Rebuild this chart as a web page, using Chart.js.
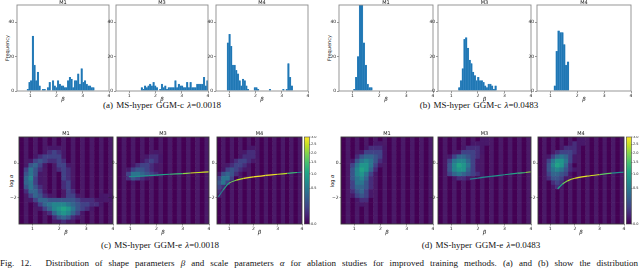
<!DOCTYPE html>
<html>
<head>
<meta charset="utf-8">
<script src="https://cdn.jsdelivr.net/npm/chart.js@4.4.1/dist/chart.umd.min.js"></script>
<style>
  body { margin: 0; width: 640px; height: 268px; overflow: hidden; background: #fff; position: relative; }
  canvas { position: absolute; }
  .lbl { position: absolute; transform: translate(-50%, -50%); white-space: nowrap; font-family: 'DejaVu Sans', sans-serif; color: #111; line-height: 1; }
  .ttl { font-size: 5px; }
  .ax { font-size: 5.5px; font-style: italic; }
  .rot { transform: translate(-50%, -50%) rotate(-90deg); }
  .cap { position: absolute; transform: translateX(-50%); white-space: nowrap; font: 9px/9px 'Liberation Serif', serif; word-spacing: 1px; color: #111; }
  .fig { position: absolute; left: 0; top: 259px; width: 638px; font: 9px/9px 'Liberation Serif', serif; text-align: justify; text-align-last: justify; color: #111; }
</style>
</head>
<body>
<div class="cap" style="left:162px;top:100.5px">(a) MS-hyper GGM-c <i>λ</i>=0.0018</div>
<div class="cap" style="left:479px;top:100.5px">(b) MS-hyper GGM-c <i>λ</i>=0.0483</div>
<div class="cap" style="left:160px;top:240.5px">(c) MS-hyper GGM-e <i>λ</i>=0.0018</div>
<div class="cap" style="left:481px;top:240.5px">(d) MS-hyper GGM-e <i>λ</i>=0.0483</div>
<div class="fig"><span style="margin-right:14px">Fig. 12.</span>Distribution of shape parameters <i>β</i> and scale parameters <i>α</i> for ablation studies for improved training methods. (a) and (b) show the distribution</div>

<div class="lbl rot" style="left:6.5px;top:48px;font-size:5px">Frequency</div>
<div class="lbl rot" style="left:328.5px;top:48px;font-size:5px">Frequency</div>
<div class="lbl rot" style="left:11px;top:181px;font-size:5px">log <i>α</i></div>
<div class="lbl rot" style="left:331.5px;top:181px;font-size:5px">log <i>α</i></div>

<script>
// ---------------- data ----------------
const betaTicks = [1, 2, 3, 4];
const freqTicks = [0, 20, 40];
const logaTicks = [-2, 0];
const cbTicks = [0, 0.5, 1, 1.5, 2, 2.5, 3];
const CB_MAX = 3;

// histograms: [first bin edge, bin width] and counts per bin
const binA1 = [0.88, 0.064];
const cntA1 = [1, 5, 6, 32, 15, 6, 11, 3, 0, 1, 1, 0, 2, 5, 0, 6, 3, 2, 6, 4, 3, 3, 2, 2, 6, 8, 7, 2, 6, 6, 10, 4, 13, 5, 6, 4, 3, 3, 2, 2];
const binA3 = [1.45, 0.064];
const cntA3 = [2, 1, 3, 2, 3, 4, 3, 5, 3, 2, 0, 1, 4, 2, 3, 1, 2, 2, 2, 2, 6, 2, 4, 3, 3, 2, 2, 5, 2, 5, 2, 2, 2, 4, 4, 4, 4, 8, 3, 6];
const binA4 = [0.92, 0.064];
const cntA4 = [28, 33, 26, 15, 15, 12, 10, 6, 3, 7, 6, 3, 1, 0, 0, 0, 2, 2, 1, 0, 0, 0, 0, 0, 0, 1, 0, 0, 0, 0, 0, 0, 0, 1, 0, 1, 16, 8, 3, 0];
const binB1 = [1.04, 0.07];
const cntB1 = [1, 8, 20, 55, 60, 28, 15, 4, 2, 2];
const binB3 = [1.27, 0.065];
const cntB3 = [2, 6, 13, 30, 31, 25, 18, 16, 11, 9, 6, 8, 6, 6, 5, 3, 2, 4, 4, 3, 1, 3];
const binB4 = [1.13, 0.07];
const cntB4 = [3, 23, 35, 34, 34, 27, 15, 17];

// density maps: rows from log a = 1.5 downwards (step 0.25), columns from beta = 0.5 (step 0.175), level 0-9
const BETA_MIN = 0.5, BETA_STEP = 0.175, LOGA_TOP = 1.5, LOGA_STEP = 0.25;
const heatC1 = [
  "00000000000000000000", "00000000000000000000", "00000011100000000000", "00000123210000000000",
  "00012333310000000000", "00134322320000000000", "01453100331000000000", "03642000232000000000",
  "04641000032000000000", "05731000032000000000", "05631000023100000000", "04642000023100000000",
  "02553100003200000000", "00354210003310000111", "00135544444432221111", "00013567776543322100",
  "00001357898643210000", "00000025787531000000", "00000002454210000000", "00000000121000000000"
];
const heatC3 = [
  "00000000000000000000", "00000000000000000000", "00000000000000000000", "00000000100000000000",
  "00000012210000000000", "00000123210000000000", "00012332100000000000", "00134432100000000000",
  "00366543210000000000", "00243210000000000000", "00010000000000000000", "00000000000000000000",
  "00000000000000000000", "00000000000000000000", "00000000000000000000", "00000000000000000000",
  "00000000000000000000", "00000000000000000000", "00000000000000000000", "00000000000000000000"
];
const heatC4 = [
  "00000000000000000000", "00000000000000000000", "00000001100000000000", "00000012210000000000",
  "00000122210000000000", "00012332100000000000", "00123321000000000000", "01343210000000000000",
  "14542100000000000000", "36630000000000000000", "46300000000000000000", "32000000000000000000",
  "20000000000000000000", "10000000000000000000", "00000000000000000000", "00000000000000000000",
  "00000000000000000000", "00000000000000000000", "00000000000000000000", "00000000000000000000"
];
const heatD1 = [
  "00000000000000000000", "00000001100000000000", "00000122210000000000", "00001333310000000000",
  "00024554310000000000", "00146764210000000000", "00368863100000000000", "00479852000000000000",
  "00478631000000000000", "00467520000000000000", "00366420000000000000", "00355420000000000000",
  "00245310000000000000", "00134310000000000000", "00012200000000000000", "00001000000000000000",
  "00000000000000000000", "00000000000000000000", "00000000000000000000", "00000000000000000000"
];
const heatD3 = [
  "00000000011000000000", "00000001111000000000", "00000122210000000000", "00001333210000000000",
  "00135543200000000000", "00367753100000000000", "00479863100000000000", "00478853100000000000",
  "00356543210000000000", "00012210000000000000", "00000000000000000000", "00000000000000000000",
  "00000000000000000000", "00000000000000000000", "00000000000000000000", "00000000000000000000",
  "00000000000000000000", "00000000000000000000", "00000000000000000000", "00000000000000000000"
];
const heatD4 = [
  "00000000011000000000", "00000001211000000000", "00000122210000000000", "00002333210000000000",
  "00135653100000000000", "00368863100000000000", "00479852000000000000", "00467642100000000000",
  "00355431000000000000", "00244310000000000000", "00023200000000000000", "00012100000000000000",
  "00000000000000000000", "00000000000000000000", "00000000000000000000", "00000000000000000000",
  "00000000000000000000", "00000000000000000000", "00000000000000000000", "00000000000000000000"
];

// thin high-density ridges (beta, log a, colour level 0-1)
const ridgeC3Beta = [0.95, 1.3, 1.7, 2.0, 2.5, 3.0, 3.3, 3.6, 4.0];
const ridgeC3Loga = [-0.78, -0.76, -0.72, -0.69, -0.64, -0.60, -0.57, -0.54, -0.50];
const ridgeC3Lvl  = [0.45, 0.5, 0.52, 0.55, 0.6, 0.75, 0.9, 0.95, 0.9];
const ridgeC4Beta = [0.55, 0.75, 1.0, 1.3, 1.6, 2.0, 2.5, 3.0, 3.4, 3.8, 4.0];
const ridgeC4Loga = [-1.95, -1.55, -1.15, -0.98, -0.88, -0.79, -0.71, -0.64, -0.59, -0.54, -0.52];
const ridgeC4Lvl  = [0.3, 0.5, 0.7, 0.85, 0.95, 0.97, 1.0, 0.95, 0.85, 0.5, 0.35];
const ridgeD3Beta = [1.7, 2.0, 2.5, 3.0, 3.5, 3.8, 4.0];
const ridgeD3Loga = [-0.92, -0.86, -0.76, -0.67, -0.58, -0.54, -0.50];
const ridgeD3Lvl  = [0.4, 0.45, 0.5, 0.55, 0.6, 0.75, 0.9];
const ridgeD4Beta = [1.3, 1.5, 1.7, 2.0, 2.5, 3.0, 3.5, 4.0];
const ridgeD4Loga = [-1.48, -1.2, -1.02, -0.87, -0.75, -0.66, -0.58, -0.52];
const ridgeD4Lvl  = [0.5, 0.7, 0.85, 0.95, 0.97, 0.9, 0.6, 0.35];

// ---------------- look ----------------
const VIRIDIS = ['#440154', '#482475', '#414487', '#355f8d', '#2a788e', '#21918c', '#22a884', '#44bf70', '#7ad151', '#bddf26', '#fde725'];
const BASE = '#440154', STRIPE = '#4a1a68';
const LEVEL = 0.58 / 9;
const HIST_L = 12, HIST_B = 8, HEAT_L = 10, HEAT_B = 7, CB_W = 18;

Chart.defaults.font.family = "'DejaVu Sans', sans-serif";
Chart.defaults.color = '#222';

function hex(h) { return [1, 3, 5].map(k => parseInt(h.substr(k, 2), 16)); }
function viridis(t) {
  t = Math.max(0, Math.min(1, t));
  const p = t * (VIRIDIS.length - 1), i = Math.min(Math.floor(p), VIRIDIS.length - 2), f = p - i;
  const a = hex(VIRIDIS[i]), b = hex(VIRIDIS[i + 1]);
  return 'rgb(' + a.map((v, k) => Math.round(v + (b[k] - v) * f)).join(',') + ')';
}

function addCanvas(r, l, b, rt) {
  const x = Math.round(r[0] - l), y = Math.round(r[1] - 1);
  const w = Math.round(r[2] + rt) - x, h = Math.round(r[3] + b) - y;
  const c = document.createElement('canvas');
  c.width = w; c.height = h;
  c.style.left = x + 'px'; c.style.top = y + 'px';
  c.style.width = w + 'px'; c.style.height = h + 'px';
  document.body.appendChild(c);
  return c;
}

function addText(cls, x, y, txt) {
  const d = document.createElement('div');
  d.className = 'lbl ' + cls;
  d.style.left = x + 'px'; d.style.top = y + 'px';
  d.innerHTML = txt;
  document.body.appendChild(d);
}

const framePlugin = color => ({
  id: 'frame',
  afterDatasetsDraw(chart) {
    const { ctx, chartArea: a } = chart;
    ctx.save();
    ctx.strokeStyle = color; ctx.lineWidth = 0.9;
    ctx.strokeRect(a.left, a.top, a.right - a.left, a.bottom - a.top);
    ctx.restore();
  }
});

const heatPlugin = grid => ({
  id: 'heat',
  beforeDatasetsDraw(chart) {
    const { ctx, chartArea: a, scales: { x, y } } = chart;
    ctx.save();
    ctx.beginPath(); ctx.rect(a.left, a.top, a.right - a.left, a.bottom - a.top); ctx.clip();
    grid.forEach((row, i) => {
      const y0 = y.getPixelForValue(LOGA_TOP - i * LOGA_STEP);
      const y1 = y.getPixelForValue(LOGA_TOP - (i + 1) * LOGA_STEP);
      for (let j = 0; j < row.length; j++) {
        const x0 = x.getPixelForValue(BETA_MIN + j * BETA_STEP);
        const x1 = x.getPixelForValue(BETA_MIN + (j + 1) * BETA_STEP);
        const d = +row[j];
        ctx.fillStyle = d ? viridis(d * LEVEL) : (j % 2 ? STRIPE : BASE);
        ctx.fillRect(x0, y0, x1 - x0 + 0.6, y1 - y0 + 0.6);
      }
    });
    ctx.restore();
  }
});

const cbPlugin = {
  id: 'cbar',
  afterDraw(chart) {
    const { ctx, chartArea: a } = chart, s = chart.scales.cb;
    const x0 = a.right + 2.3, w = 5;
    const top = s.getPixelForValue(1), bot = s.getPixelForValue(0);
    const g = ctx.createLinearGradient(0, bot, 0, top);
    VIRIDIS.forEach((c, k) => g.addColorStop(k / (VIRIDIS.length - 1), c));
    ctx.save();
    ctx.fillStyle = g;
    ctx.fillRect(x0, top, w, bot - top);
    ctx.strokeStyle = '#444'; ctx.lineWidth = 0.6;
    ctx.strokeRect(x0, top, w, bot - top);
    cbTicks.forEach(v => {
      const py = s.getPixelForValue(Math.sqrt(v / CB_MAX));
      ctx.beginPath(); ctx.moveTo(x0 + w, py); ctx.lineTo(x0 + w + 1.2, py); ctx.stroke();
    });
    ctx.restore();
  }
};

function xAxis(height, tick) {
  return {
    type: 'linear', min: 0.5, max: 4, offset: false,
    afterBuildTicks: s => { s.ticks = betaTicks.map(v => ({ value: v })); },
    afterFit: s => { s.height = height; s.paddingLeft = 0; s.paddingRight = 0; },
    grid: { drawOnChartArea: false, offset: false, tickLength: tick, color: '#555', tickWidth: 0.6 },
    border: { display: false },
    ticks: { autoSkip: false, maxRotation: 0, padding: 0.5, font: { size: 4.5 } }
  };
}

function yAxis(width, tick, min, max, values) {
  return {
    type: 'linear', min, max,
    afterBuildTicks: s => { s.ticks = values.map(v => ({ value: v })); },
    afterFit: s => { s.width = width; s.paddingTop = 0; s.paddingBottom = 0; },
    grid: { drawOnChartArea: false, tickLength: tick, color: '#555', tickWidth: 0.6 },
    border: { display: false },
    ticks: { autoSkip: false, padding: 0.8, font: { size: 4.5 }, callback: v => String(v).replace('-', '\u2212') }
  };
}

function histChart(r, title, bins, counts) {
  const cv = addCanvas(r, HIST_L, HIST_B, 1);
  addText('ttl', (r[0] + r[2]) / 2, r[1] - 3.5, title);
  addText('ax', (r[0] + r[2]) / 2, r[3] + 8.5, 'β');
  new Chart(cv, {
    type: 'bar',
    data: {
      datasets: [{
        data: counts.map((c, i) => ({ x: bins[0] + bins[1] * (i + 0.5), y: c })),
        backgroundColor: '#1f77b4',
        borderColor: '#3f8cc6',
        borderWidth: 0.35,
        barPercentage: 1,
        categoryPercentage: 1
      }]
    },
    options: {
      responsive: false, animation: false, events: [],
      layout: { padding: { top: 1, right: 1, left: 0, bottom: 0 } },
      plugins: { legend: { display: false }, tooltip: { enabled: false } },
      scales: { x: xAxis(HIST_B, 2), y: yAxis(HIST_L, 2, 0, 50, freqTicks) }
    },
    plugins: [framePlugin('#8c8c8c')]
  });
}

function heatChart(r, title, grid, ridge, withBar) {
  const cv = addCanvas(r, HEAT_L, HEAT_B, withBar ? CB_W : 1);
  addText('ttl', (r[0] + r[2]) / 2, r[1] - 4, title);
  addText('ax', (r[0] + r[2]) / 2, r[3] + 9, 'β');
  const datasets = [];
  if (ridge) {
    const [bs, ls, lv] = ridge;
    datasets.push({
      data: bs.map((b, i) => ({ x: b, y: ls[i] })),
      showLine: true, pointRadius: 0, borderWidth: 1.2, tension: 0.3,
      borderColor: viridis(0.8),
      segment: { borderColor: c => viridis((lv[c.p0DataIndex] + lv[c.p1DataIndex]) / 2) }
    });
  }
  const scales = { x: xAxis(HEAT_B, 1.5), y: yAxis(HEAT_L, 1.5, -3.5, 1.5, logaTicks) };
  if (withBar) {
    scales.cb = {
      type: 'linear', position: 'right', min: 0, max: 1,
      afterBuildTicks: s => { s.ticks = cbTicks.map(v => ({ value: Math.sqrt(v / CB_MAX) })); },
      afterFit: s => { s.width = CB_W; s.paddingTop = 0; s.paddingBottom = 0; },
      grid: { display: false, drawTicks: false, tickLength: 0 },
      border: { display: false },
      ticks: { autoSkip: false, padding: 9, font: { size: 3.5 }, callback: (v, i) => cbTicks[i].toFixed(1) }
    };
  }
  new Chart(cv, {
    type: 'scatter',
    data: { datasets },
    options: {
      responsive: false, animation: false, events: [],
      layout: { padding: { top: 1, right: withBar ? 0 : 1, left: 0, bottom: 0 } },
      plugins: { legend: { display: false }, tooltip: { enabled: false } },
      scales
    },
    plugins: [heatPlugin(grid), framePlugin('#3a3a3a')].concat(withBar ? [cbPlugin] : [])
  });
}

histChart([17, 5, 109, 91], 'M1', binA1, cntA1);
histChart([116, 5, 208, 91], 'M3', binA3, cntA3);
histChart([216, 5, 308, 91], 'M4', binA4, cntA4);
histChart([339, 5, 433, 91], 'M1', binB1, cntB1);
histChart([438, 5, 531, 91], 'M3', binB3, cntB3);
histChart([537, 5, 631, 91], 'M4', binB4, cntB4);

heatChart([19, 137, 113, 224], 'M1', heatC1, null, false);
heatChart([117, 137, 209, 224], 'M3', heatC3, [ridgeC3Beta, ridgeC3Loga, ridgeC3Lvl], false);
heatChart([217, 137, 302, 224], 'M4', heatC4, [ridgeC4Beta, ridgeC4Loga, ridgeC4Lvl], true);
heatChart([341, 137, 433, 224], 'M1', heatD1, null, false);
heatChart([438, 137, 531, 224], 'M3', heatD3, [ridgeD3Beta, ridgeD3Loga, ridgeD3Lvl], false);
heatChart([538, 137, 624, 224], 'M4', heatD4, [ridgeD4Beta, ridgeD4Loga, ridgeD4Lvl], true);
</script>
</body>
</html>
